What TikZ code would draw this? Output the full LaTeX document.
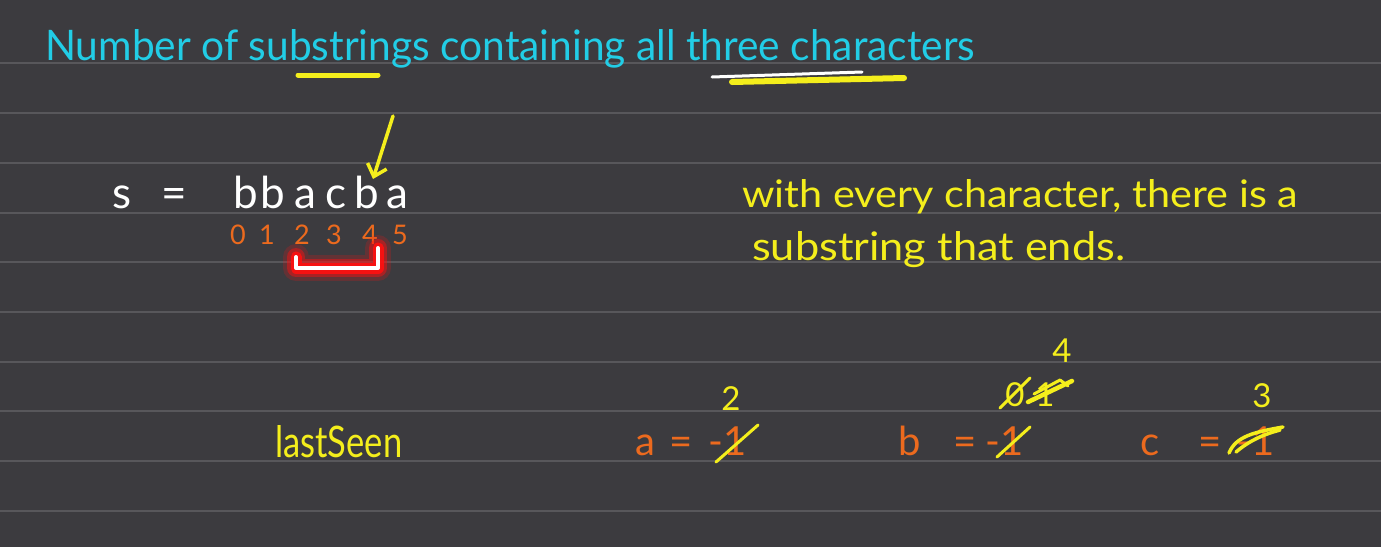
\documentclass[tikz,border=0pt]{standalone}
\usepackage{fontspec}
\setmainfont{Lato}
\usepackage{graphicx}
\usetikzlibrary{arrows.meta}
\definecolor{bg}{HTML}{3C3B3F}
\definecolor{rulec}{HTML}{58575B}
\definecolor{cyanink}{HTML}{22CDE6}
\definecolor{yel}{HTML}{F4EE1C}
\definecolor{org}{HTML}{EC6A1E}
\definecolor{glow}{HTML}{FF1010}
\begin{document}
\begin{tikzpicture}[x=1pt,y=-1pt,
  txt/.style={inner sep=0pt, anchor=base west},
  chr/.style={inner sep=0pt, anchor=base, text=white, font=\fontsize{44}{46}\selectfont},
  idx/.style={inner sep=0pt, anchor=base, text=org, font=\fontsize{27}{29}\selectfont},
  var/.style={inner sep=0pt, anchor=base, text=org, font=\fontsize{40}{42}\selectfont},
  upd/.style={inner sep=0pt, anchor=base, text=yel, font=\fontsize{33}{35}\selectfont},
  pen/.style={yel, line width=3pt, line cap=round, line join=round}]
\useasboundingbox (0,0) rectangle (1381,547);
\fill[bg] (0,0) rectangle (1381,547);
\foreach \yy in {63,113,163,213,262,312,362,411,461,511}
  \draw[rulec, line width=1.6pt] (0,\yy) -- (1381,\yy);

% title
\node[txt, text=cyanink] (title) at (45,60) {\resizebox{930pt}{31pt}{Number of substrings containing all three characters}};
\draw[yel, line width=5pt, line cap=round] (298,75) -- (378,75);
\draw[white, line width=3pt, line cap=round] (712,77) -- (862,72);
\draw[yel, line width=6pt, line cap=round] (732,82) -- (904,78);

% string
\node[chr] (s) at (122,208) {s};
\node[chr] (eq) at (174,208) {=};
\foreach \ch/\xx/\nm in {b/246/c0, b/273/c1, a/305/c2, c/336/c3, b/367/c4, a/397/c5}
  \node[chr] (\nm) at (\xx,208) {\ch};
\foreach \d/\xx in {0/238, 1/267, 2/302, 3/334, 4/370, 5/400}
  \node[idx] (i\d) at (\xx,244) {\d};

% arrow
\coordinate (arrtail) at (393,116);
\coordinate (arrtip) at (373,179);
\draw[pen, line width=3.5pt, -{Straight Barb[length=11pt,width=20pt]}] (arrtail) -- (arrtip);

% glowing bracket
\draw[glow, opacity=0.2, line width=26pt, line join=round, line cap=round] (296,257) -- (296,268) -- (378,268) -- (378,248);
\draw[glow, opacity=0.45, line width=18pt, line join=round, line cap=round] (296,257) -- (296,268) -- (378,268) -- (378,248);
\draw[glow, opacity=0.9, line width=11pt, line join=round, line cap=round] (296,257) -- (296,268) -- (378,268) -- (378,248);
\draw[white, line width=4pt, line join=round, line cap=round] (296,257) -- (296,268) -- (378,268) -- (378,248);

% note
\node[txt, text=yel] (note1) at (742,207) {\resizebox{556pt}{28pt}{with every character, there is a}};
\node[txt, text=yel] (note2) at (752,260) {\resizebox{373pt}{29pt}{substring that ends.}};

% lastSeen
\node[txt, text=yel] (last) at (275,457) {\resizebox{127pt}{32pt}{lastSeen}};

% a
\node[var] (va) at (645,455) {a};
\node[var] (vaeq) at (681,455) {=};
\node[var] (vaval) at (728,455) {-1};
\draw[pen] (716,462) -- (758,425);
\node[upd] (a2) at (731,410) {2};

% b
\node[var] (vb) at (910,455) {b};
\node[var] (vbeq) at (965,455) {=};
\node[var] (vbval) at (1005,455) {-1};
\draw[pen] (997,457) -- (1030,427);
\node[upd] (b0) at (1015,406) {0};
\node[upd] (b1) at (1045,406) {1};
\draw[pen] (1000,408) -- (1030,378);
\draw[pen, line width=4.5pt] (1028,402) -- (1072,381);
\draw[pen] (1034,394) -- (1060,380) -- (1068,386);
\node[upd] (b4) at (1062,362) {4};

% c
\node[var] (vc) at (1150,455) {c};
\node[var] (vceq) at (1210,455) {=};
\node[var] (vcval) at (1256,455) {-1};
\draw[pen, line width=3.5pt] (1229,453) .. controls (1236,436) and (1255,432) .. (1283,427);
\draw[pen, line width=3.5pt] (1236,452) .. controls (1250,440) and (1265,434) .. (1280,430);
\node[upd] (c3) at (1262,407) {3};
\end{tikzpicture}
\end{document}
